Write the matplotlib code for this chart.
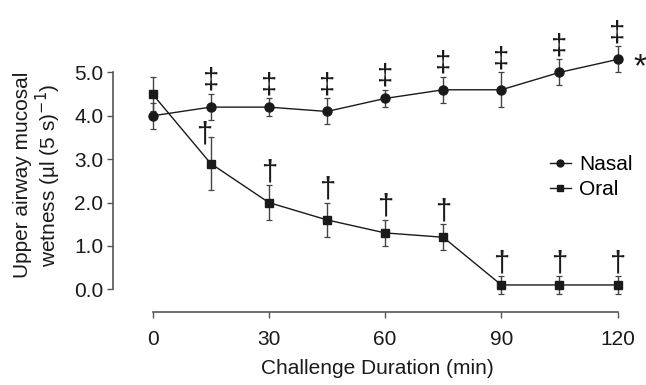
import numpy as np
import matplotlib.pyplot as plt
from matplotlib.lines import Line2D

plt.rcParams['font.family'] = ['Liberation Sans', 'DejaVu Sans']

# data
minutes = [0, 15, 30, 45, 60, 75, 90, 105, 120]
nasal = [4.0, 4.2, 4.2, 4.1, 4.4, 4.6, 4.6, 5.0, 5.3]
nasal_err = [0.3, 0.3, 0.2, 0.3, 0.2, 0.3, 0.4, 0.3, 0.3]
oral = [4.5, 2.9, 2.0, 1.6, 1.3, 1.2, 0.1, 0.1, 0.1]
oral_err = [0.4, 0.6, 0.4, 0.4, 0.3, 0.3, 0.2, 0.2, 0.2]
xticks = [0, 30, 60, 90, 120]
yticks = [0.0, 1.0, 2.0, 3.0, 4.0, 5.0]

ink = '#1a1a1a'
axis_col = '#555555'
fs = 15

fig = plt.figure(figsize=(6.46, 3.85), dpi=100)
ax = fig.add_axes([0.175, 0.190, 0.817, 0.712])

ax.errorbar(minutes, nasal, yerr=nasal_err, color=ink, marker='o', ms=6.5,
            lw=1.0, elinewidth=1.0, capsize=2.5, capthick=0.9, ecolor='#444444',
            zorder=3)
ax.errorbar(minutes, oral, yerr=oral_err, color=ink, marker='s', ms=5.5,
            lw=1.0, elinewidth=1.0, capsize=2.5, capthick=0.9, ecolor='#444444',
            zorder=3)

# significance markers
for x, y, e in zip(minutes[1:], nasal[1:], nasal_err[1:]):
    ax.text(x, y + e - 0.02, '‡', ha='center', va='bottom', fontsize=21,
            color=ink, clip_on=False)
for i, (x, y, e) in enumerate(zip(minutes[1:], oral[1:], oral_err[1:])):
    if i == 0:
        ax.text(x - 1.8, 3.25, '†', ha='center', va='bottom', fontsize=21,
                color=ink, clip_on=False)
    else:
        ax.text(x, y + e - 0.02, '†', ha='center', va='bottom', fontsize=21,
                color=ink, clip_on=False)
ax.text(minutes[-1] + 4, nasal[-1] - 0.2, '*', ha='left', va='center', fontsize=24,
        color=ink, clip_on=False)

ax.set_xlim(-10.2, 126)
ax.set_ylim(-0.52, 5.8)
ax.set_xticks(xticks)
ax.set_yticks(yticks)
ax.set_yticklabels([f'{v:.1f}' for v in yticks])
ax.spines['top'].set_visible(False)
ax.spines['right'].set_visible(False)
ax.spines['left'].set_bounds(0, 5)
ax.spines['bottom'].set_bounds(0, 120)
for s in ('left', 'bottom'):
    ax.spines[s].set_color(axis_col)
    ax.spines[s].set_linewidth(1.2)
ax.tick_params(colors=axis_col, labelcolor=ink, labelsize=fs, length=4, width=1.0)
ax.tick_params(axis='x', pad=9)
ax.tick_params(axis='y', pad=3)

ax.set_xlabel('Challenge Duration (min)', fontsize=fs, color=ink, labelpad=7)
ax.set_ylabel('Upper airway mucosal\nwetness (µl (5 s)$^{-1}$)', fontsize=fs,
              color=ink, labelpad=8, linespacing=1.1)

handles = [Line2D([], [], color=ink, marker='o', ms=5, lw=1.0),
           Line2D([], [], color=ink, marker='s', ms=4.5, lw=1.0)]
ax.legend(handles, ['Nasal', 'Oral'], loc='upper left',
          bbox_to_anchor=(0.80, 0.625), frameon=False, fontsize=fs,
          handlelength=1.0, handletextpad=0.4, labelspacing=0.3, borderpad=0.2)

fig.savefig('out.png', dpi=100)
